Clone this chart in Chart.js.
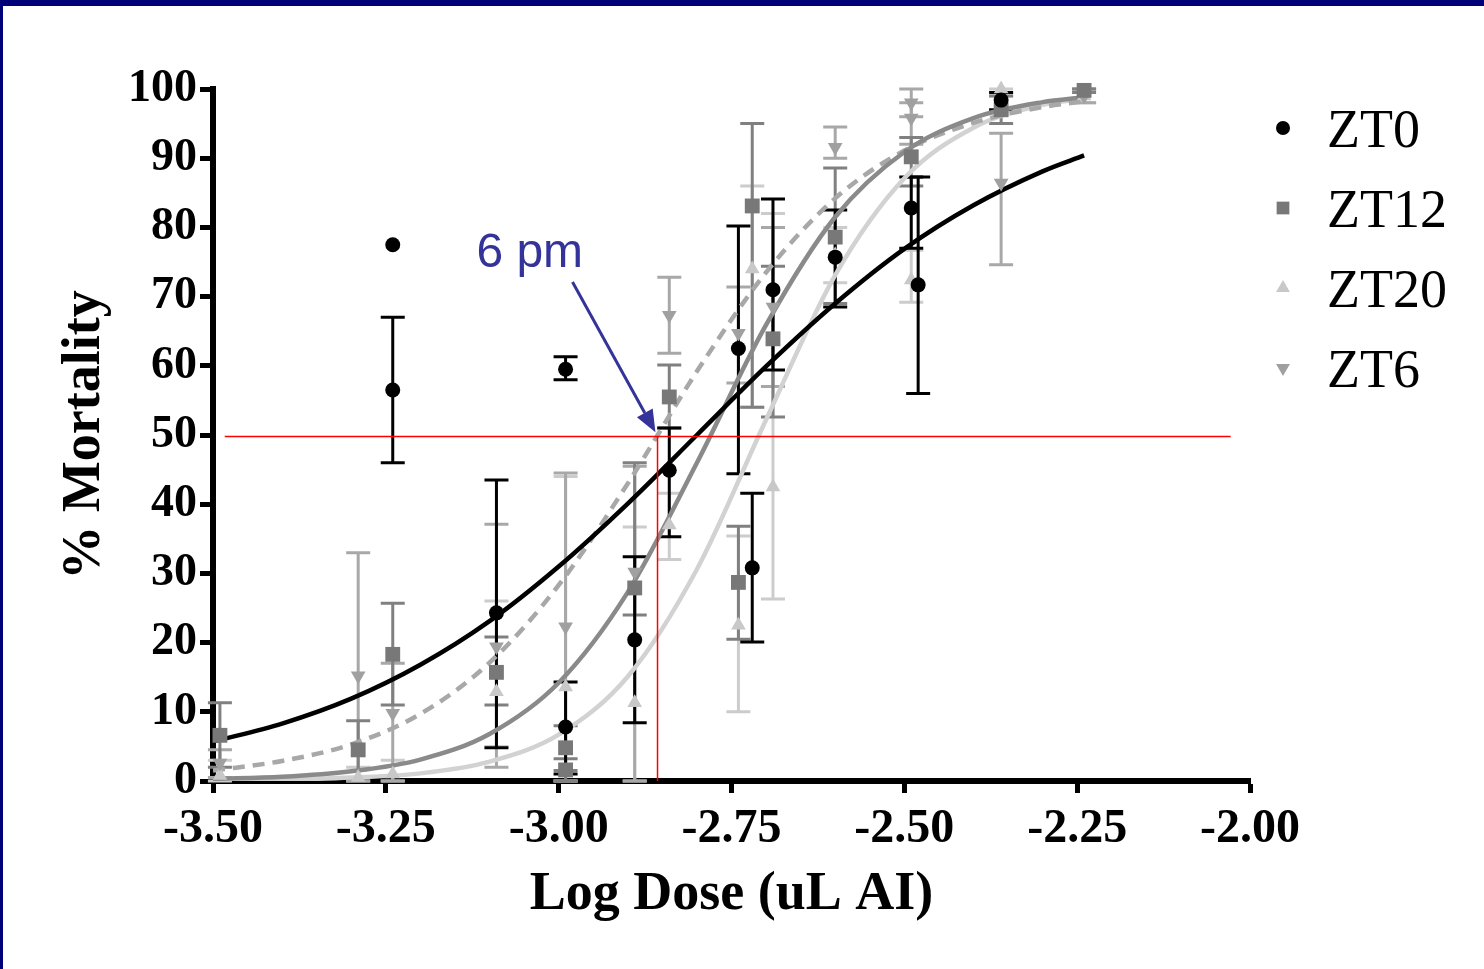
<!DOCTYPE html>
<html><head><meta charset="utf-8">
<script src="https://cdn.jsdelivr.net/npm/chart.js@4"></script>
<style>
html,body{margin:0;padding:0;background:#fff;}
#wrap{position:relative;width:1484px;height:969px;overflow:hidden;background:#fff;}
#bt{position:absolute;left:0;top:0;width:1484px;height:6px;background:#000078;}
#bl{position:absolute;left:0;top:0;width:3px;height:969px;background:#000078;}
canvas{position:absolute;left:0;top:0;}
</style></head><body>
<div id="wrap"><canvas id="c" width="1484" height="969"></canvas><div id="bt"></div><div id="bl"></div></div>
<script>
// ---------- data ----------
const seriesNames = ['ZT0', 'ZT12', 'ZT20', 'ZT6'];
const xTickLabels = ['-3.50', '-3.25', '-3.00', '-2.75', '-2.50', '-2.25', '-2.00'];
const yTickLabels = ['0', '10', '20', '30', '40', '50', '60', '70', '80', '90', '100'];
const xTitle = 'Log Dose (uL AI)';
const yTitle = '% Mortality';

const zt0X  = [-3.24, -3.24, -3.09, -2.99, -2.99, -2.89, -2.84, -2.74, -2.72, -2.69, -2.60, -2.49, -2.48, -2.36];
const zt0Y  = [77.5, 56.5, 24.3, 59.5, 7.8, 20.4, 44.9, 62.5, 30.8, 71.0, 75.7, 82.8, 71.7, 98.4];
const zt0Lo = [null, 46, 4.8, 58, 1, 8.4, 35.3, 44.4, 20.1, 59.4, 68.5, 77, 56, 97];
const zt0Hi = [null, 67, 43.5, 61.3, 14.3, 32.4, 51, 80.2, 41.6, 84.1, 82.5, 87.3, 87.3, 99.5];

const zt12X  = [-3.49, -3.29, -3.24, -3.09, -2.99, -2.99, -2.89, -2.84, -2.74, -2.72, -2.69, -2.60, -2.49, -2.36, -2.24];
const zt12Y  = [6.6, 4.5, 18.3, 15.7, 4.8, 1.6, 27.9, 55.5, 28.7, 83.1, 63.9, 78.6, 90.2, 97.0, 99.8];
const zt12Lo = [2, 0.5, 11, 11, 1.5, 0, 24, 51, 20.5, 54, 52.6, 69, 86, 95, 99.5];
const zt12Hi = [11.3, 8.7, 25.7, 20.8, 8, 3.2, 46, 60.1, 36.8, 95, 74.4, 88.6, 93, 99, 100];

const zt20X  = [-3.49, -3.29, -3.24, -3.09, -2.99, -2.89, -2.84, -2.74, -2.72, -2.69, -2.60, -2.49, -2.36, -2.24];
const zt20Y  = [0.8, 0.5, 1.0, 12.9, 13.6, 11.3, 37.0, 22.5, 74.0, 42.5, 76.0, 72.4, 100, 99.0];
const zt20Lo = [0, 0, 0, 5, 0, 0, 32, 10, 54, 26.3, 72, 69.2, 99, 98];
const zt20Hi = [3, 2, 3, 26, 44, 36.7, 41.6, 35.4, 86, 82, 80, 76.7, 100, 100];

const zt6X  = [-3.49, -3.29, -3.24, -3.09, -2.99, -2.89, -2.84, -2.74, -2.69, -2.60, -2.49, -2.49, -2.36, -2.24];
const zt6Y  = [2.6, 15.2, 9.8, 19.4, 22.3, 30.2, 67.3, 64.7, 68.5, 91.6, 95.8, 98.0, 86.4, 99.0];
const zt6Lo = [0.5, 0, 0, 2, 0, 0, 61.8, 57.5, 57, 90, 92, 96, 74.6, 98];
const zt6Hi = [4.5, 33, 17, 37.1, 44.5, 45.5, 72.8, 71.4, 80, 94.5, 98, 100, 93.6, 100];

// fitted curves
const curveX    = [-3.5, -3.4, -3.3, -3.2, -3.1, -3.0, -2.9, -2.8, -2.7, -2.6, -2.5, -2.4, -2.3, -2.24];
const zt0Curve  = [5.7, 8.3, 11.9, 16.8, 23.1, 31.0, 40.1, 50.0, 59.9, 69.0, 76.9, 83.2, 88.1, 90.4];
const zt12Curve = [0.3, 0.6, 1.4, 3.1, 6.8, 14.2, 27.3, 46.0, 65.9, 81.5, 90.9, 95.8, 98.1, 98.8];
const zt20Curve = [0.1, 0.2, 0.5, 1.1, 2.8, 6.7, 15.1, 30.6, 52.2, 73.1, 87.1, 94.4, 97.7, 98.6];
const zt6Curve  = [1.5, 2.9, 5.3, 9.7, 17.1, 28.3, 43.0, 59.2, 73.5, 84.2, 91.1, 95.1, 97.4, 98.2];

// reference lines and annotation
const hLineX = [-3.483, -2.028];
const hLineY = [49.8, 49.8];
const vLineX = [-2.857, -2.857];
const vLineY = [49.8, 0];
const noteText = '6 pm';
const notePos = [-3.119, 74.3];
const arrowFrom = [-2.980, 72.1];
const arrowTo = [-2.860, 50.4];

// ---------- helpers ----------
const pts = (xs, ys) => xs.map((x, i) => ({x: x, y: ys[i]}));
const SERIF = '"Liberation Serif", "Times New Roman", serif';

const errorBars = {
  id: 'errorBars',
  beforeDatasetsDraw(chart) {
    const ctx = chart.ctx, xs = chart.scales.x, ys = chart.scales.y;
    const drawOrder = [2, 3, 1, 0];
    drawOrder.forEach(i => {
      const ds = chart.data.datasets[i];
      if (!ds.errLo) return;
      ctx.save();
      ctx.strokeStyle = ds.errColor;
      ctx.lineWidth = 3;
      ds.data.forEach((p, j) => {
        const lo = ds.errLo[j], hi = ds.errHi[j];
        if (lo == null || hi == null) return;
        const x = xs.getPixelForValue(p.x);
        const yl = ys.getPixelForValue(lo), yh = ys.getPixelForValue(hi);
        ctx.beginPath();
        ctx.moveTo(x, yl); ctx.lineTo(x, yh);
        ctx.moveTo(x - 12, yl); ctx.lineTo(x + 12, yl);
        ctx.moveTo(x - 12, yh); ctx.lineTo(x + 12, yh);
        ctx.stroke();
      });
      ctx.restore();
    });
  }
};

const annotation = {
  id: 'annot',
  afterDatasetsDraw(chart) {
    const ctx = chart.ctx, xs = chart.scales.x, ys = chart.scales.y;
    ctx.save();
    const x1 = xs.getPixelForValue(arrowFrom[0]), y1 = ys.getPixelForValue(arrowFrom[1]);
    const x2 = xs.getPixelForValue(arrowTo[0]), y2 = ys.getPixelForValue(arrowTo[1]);
    const ang = Math.atan2(y2 - y1, x2 - x1);
    const hl = 22, hw = 9;
    const bx = x2 - hl * Math.cos(ang), by = y2 - hl * Math.sin(ang);
    ctx.strokeStyle = '#333399';
    ctx.fillStyle = '#333399';
    ctx.lineWidth = 3;
    ctx.beginPath(); ctx.moveTo(x1, y1); ctx.lineTo(bx, by); ctx.stroke();
    ctx.beginPath();
    ctx.moveTo(x2, y2);
    ctx.lineTo(bx + hw * Math.sin(ang), by - hw * Math.cos(ang));
    ctx.lineTo(bx - hw * Math.sin(ang), by + hw * Math.cos(ang));
    ctx.closePath(); ctx.fill();
    ctx.font = '48px "Liberation Sans", Arial, sans-serif';
    ctx.textAlign = 'left';
    ctx.textBaseline = 'alphabetic';
    ctx.fillText(noteText, xs.getPixelForValue(notePos[0]), ys.getPixelForValue(notePos[1]));
    ctx.restore();
  }
};

const sideLegend = {
  id: 'sideLegend',
  afterDraw(chart, args, opts) {
    const ctx = chart.ctx;
    seriesNames.forEach((name, i) => {
      const ds = chart.data.datasets[i];
      const y = opts.top + i * opts.gap;
      ctx.save();
      ctx.fillStyle = ds.backgroundColor;
      Chart.helpers.drawPoint(ctx, {pointStyle: ds.pointStyle, rotation: ds.rotation || 0,
        radius: ds.legendRadius, borderWidth: 0}, opts.markerX, y);
      ctx.fillStyle = '#000';
      ctx.font = '54px ' + SERIF;
      ctx.textAlign = 'left';
      ctx.textBaseline = 'alphabetic';
      ctx.fillText(name, opts.textX, y + 19);
      ctx.restore();
    });
  }
};

// ---------- chart ----------
const scatterCommon = {type: 'scatter', showLine: false, borderWidth: 0, pointBorderWidth: 0, clip: false};
const curveCommon = {type: 'line', pointRadius: 0, borderWidth: 4.5, cubicInterpolationMode: 'monotone', fill: false};

new Chart(document.getElementById('c'), {
  data: {
    datasets: [
      Object.assign({}, scatterCommon, {label: seriesNames[0], data: pts(zt0X, zt0Y), errLo: zt0Lo, errHi: zt0Hi,
        errColor: '#000000', backgroundColor: '#000000', pointStyle: 'circle', pointRadius: 7.5, legendRadius: 7, order: 0}),
      Object.assign({}, scatterCommon, {label: seriesNames[1], data: pts(zt12X, zt12Y), errLo: zt12Lo, errHi: zt12Hi,
        errColor: '#808080', backgroundColor: '#787878', pointStyle: 'rect', pointRadius: 10.5, legendRadius: 9, order: 1}),
      Object.assign({}, scatterCommon, {label: seriesNames[2], data: pts(zt20X, zt20Y), errLo: zt20Lo, errHi: zt20Hi,
        errColor: '#cccccc', backgroundColor: '#c8c8c8', pointStyle: 'triangle', pointRadius: 8.5, legendRadius: 8, order: 3}),
      Object.assign({}, scatterCommon, {label: seriesNames[3], data: pts(zt6X, zt6Y), errLo: zt6Lo, errHi: zt6Hi,
        errColor: '#a8a8a8', backgroundColor: '#a0a0a0', pointStyle: 'triangle', rotation: 180, pointRotation: 180,
        pointRadius: 8.5, legendRadius: 8, order: 2}),
      Object.assign({}, curveCommon, {label: 'fit ZT0', data: pts(curveX, zt0Curve), borderColor: '#000000', order: 5}),
      Object.assign({}, curveCommon, {label: 'fit ZT12', data: pts(curveX, zt12Curve), borderColor: '#8a8a8a', order: 6}),
      Object.assign({}, curveCommon, {label: 'fit ZT20', data: pts(curveX, zt20Curve), borderColor: '#d2d2d2', order: 8}),
      Object.assign({}, curveCommon, {label: 'fit ZT6', data: pts(curveX, zt6Curve), borderColor: '#a8a8a8', borderDash: [12, 8], order: 7}),
      {type: 'line', label: 'h50', data: pts(hLineX, hLineY), borderColor: '#ff0000', borderWidth: 1.5, pointRadius: 0, order: 4},
      {type: 'line', label: 'v50', data: pts(vLineX, vLineY), borderColor: '#ff0000', borderWidth: 1.5, pointRadius: 0, order: 4}
    ]
  },
  options: {
    responsive: false,
    animation: false,
    events: [],
    layout: {padding: {left: 0, top: 89, right: 234, bottom: 0}},
    plugins: {
      legend: {display: false},
      tooltip: {enabled: false},
      sideLegend: {markerX: 1283, textX: 1327, top: 128, gap: 80}
    },
    scales: {
      x: {
        type: 'linear', min: -3.5, max: -2.0,
        afterFit(s) { s.height = 188; },
        ticks: {stepSize: 0.25, color: '#000', padding: 8,
          font: {family: SERIF, weight: 'bold', size: 48},
          callback: (v, i) => xTickLabels[i]},
        grid: {display: true, drawOnChartArea: false, drawTicks: true, tickLength: 12, tickWidth: 5, tickColor: '#000'},
        border: {display: true, width: 6, color: '#000'},
        title: {display: true, text: xTitle, color: '#000', font: {family: SERIF, weight: 'bold', size: 54},
          padding: {top: 0, bottom: 42}}
      },
      y: {
        type: 'linear', min: 0, max: 100,
        afterFit(s) { s.width = 213; },
        ticks: {stepSize: 10, color: '#000', padding: 3,
          font: {family: SERIF, weight: 'bold', size: 46},
          callback: (v, i) => yTickLabels[i]},
        grid: {display: true, drawOnChartArea: false, drawTicks: true, tickLength: 13, tickWidth: 5, tickColor: '#000'},
        border: {display: true, width: 6, color: '#000'},
        title: {display: true, text: yTitle, color: '#000', font: {family: SERIF, weight: 'bold', size: 54},
          padding: {top: 53, bottom: 0}}
      }
    }
  },
  plugins: [errorBars, annotation, sideLegend]
});
</script>
</body></html>
